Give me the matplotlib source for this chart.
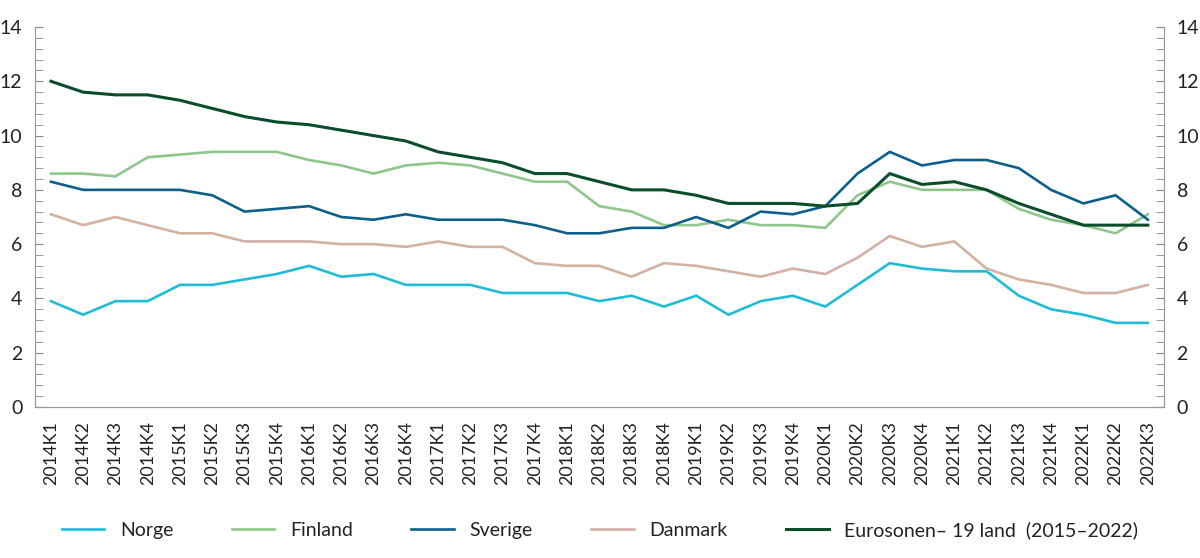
import matplotlib
matplotlib.use("Agg")
import matplotlib.pyplot as plt
from matplotlib.ticker import MultipleLocator

plt.rcParams['font.family'] = ['Lato', 'DejaVu Sans']

# Quarters 2014K1 - 2022K3
quarters = [f"{y}K{q}" for y in range(2014, 2023) for q in range(1, 5)][:35]

norge = [3.9, 3.4, 3.9, 3.9, 4.5, 4.5, 4.7, 4.9, 5.2, 4.8, 4.9, 4.5,
         4.5, 4.5, 4.2, 4.2, 4.2, 3.9, 4.1, 3.7, 4.1, 3.4, 3.9, 4.1,
         3.7, 4.5, 5.3, 5.1, 5.0, 5.0, 4.1, 3.6, 3.4, 3.1, 3.1]
finland = [8.6, 8.6, 8.5, 9.2, 9.3, 9.4, 9.4, 9.4, 9.1, 8.9, 8.6, 8.9,
           9.0, 8.9, 8.6, 8.3, 8.3, 7.4, 7.2, 6.7, 6.7, 6.9, 6.7, 6.7,
           6.6, 7.8, 8.3, 8.0, 8.0, 8.0, 7.3, 6.9, 6.7, 6.4, 7.1]
sverige = [8.3, 8.0, 8.0, 8.0, 8.0, 7.8, 7.2, 7.3, 7.4, 7.0, 6.9, 7.1,
           6.9, 6.9, 6.9, 6.7, 6.4, 6.4, 6.6, 6.6, 7.0, 6.6, 7.2, 7.1,
           7.4, 8.6, 9.4, 8.9, 9.1, 9.1, 8.8, 8.0, 7.5, 7.8, 6.9]
danmark = [7.1, 6.7, 7.0, 6.7, 6.4, 6.4, 6.1, 6.1, 6.1, 6.0, 6.0, 5.9,
           6.1, 5.9, 5.9, 5.3, 5.2, 5.2, 4.8, 5.3, 5.2, 5.0, 4.8, 5.1,
           4.9, 5.5, 6.3, 5.9, 6.1, 5.1, 4.7, 4.5, 4.2, 4.2, 4.5]
eurosonen = [12.0, 11.6, 11.5, 11.5, 11.3, 11.0, 10.7, 10.5, 10.4, 10.2, 10.0, 9.8,
             9.4, 9.2, 9.0, 8.6, 8.6, 8.3, 8.0, 8.0, 7.8, 7.5, 7.5, 7.5,
             7.4, 7.5, 8.6, 8.2, 8.3, 8.0, 7.5, 7.1, 6.7, 6.7, 6.7]

series = [
    ("Norge", norge, "#1fbcd6", 1.9),
    ("Finland", finland, "#8fc68b", 1.9),
    ("Sverige", sverige, "#0e5f8c", 1.9),
    ("Danmark", danmark, "#d2b2a3", 1.9),
    ("Eurosonen\u2013 19 land  (2015\u20132022)", eurosonen, "#0a4d2b", 2.2),
]

fig = plt.figure(figsize=(12, 5.58), dpi=100)
ax = fig.add_axes([0.029, 0.2706, 0.941, 0.681])

x = list(range(len(quarters)))
for name, vals, color, lw in series:
    ax.plot(x, vals, color=color, lw=lw, label=name, solid_joinstyle='miter')

ax.set_xlim(-0.5, len(quarters) - 0.5)
ax.set_ylim(0, 14)
ax.set_xticks(x)
ax.set_xticklabels(quarters, rotation=90, fontsize=13)
ax.tick_params(axis='x', length=0, pad=10, labelcolor='#222222')

ax2 = ax.twinx()
ax2.set_ylim(0, 14)
for a in (ax, ax2):
    a.yaxis.set_major_locator(MultipleLocator(2))
    a.yaxis.set_minor_locator(MultipleLocator(0.4))
    a.tick_params(axis='y', which='both', direction='in', color='#888888',
                  labelsize=14, pad=9, labelcolor='#222222')
    a.tick_params(axis='y', which='major', length=6)
    a.tick_params(axis='y', which='minor', length=6)
    for s in a.spines.values():
        s.set_color('#999999')
    a.spines['top'].set_visible(False)

fig.legend(loc='center', bbox_to_anchor=(0.5, 0.05), ncol=5, frameon=False,
           fontsize=14, handlelength=2.2, columnspacing=3.0, handletextpad=0.8,
           labelcolor='#222222')

fig.savefig("out.png", dpi=100)
